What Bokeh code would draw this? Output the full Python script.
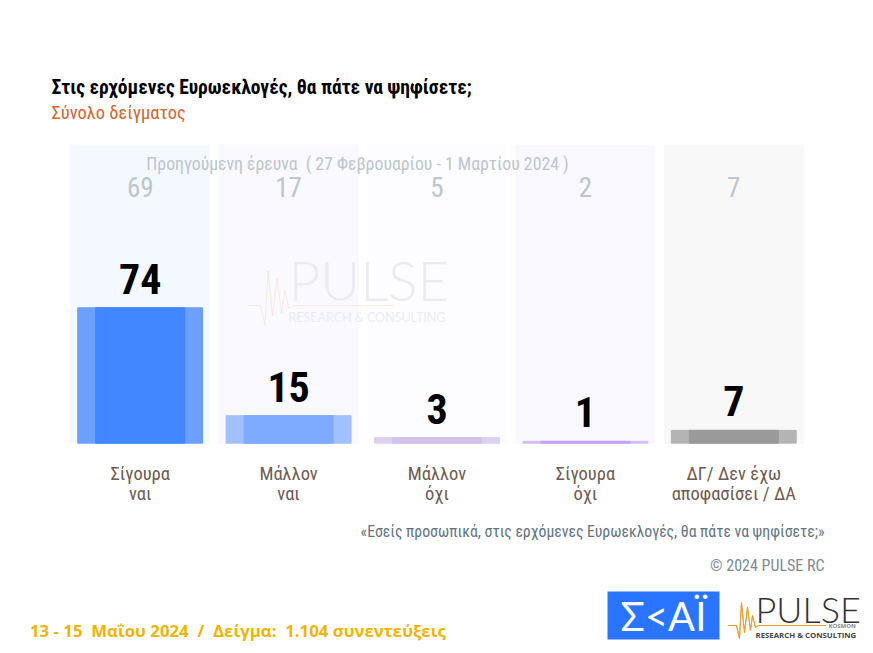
from bokeh.core.properties import value
from bokeh.embed import file_html
from bokeh.models import BoxAnnotation, ColumnDataSource, FactorRange, Label, PolyAnnotation, Range1d
from bokeh.plotting import figure
from bokeh.resources import INLINE

categories = ["Σίγουρα\nναι", "Μάλλον\nναι", "Μάλλον\nόχι", "Σίγουρα\nόχι", "ΔΓ/ Δεν έχω\nαποφασίσει / ΔΑ"]
current = [74, 15, 3, 1, 7]
previous = [69, 17, 5, 2, 7]

outer_colors = ["#6c9fff", "#a0c0ff", "#dcd0f0", "#d4bdf8", "#b4b4b4"]
inner_colors = ["#4287ff", "#7eaaff", "#d3c3ec", "#c3a3f5", "#9a9a9a"]
panel_colors = ["#f3f9ff", "#f9f9ff", "#fdfdff", "#faf8ff", "#f8f8f8"]

NARROW = "Roboto Condensed, Roboto"
PANEL_TOP = 163
PREV_ROW = 140

# frame fills the whole canvas so that the loose texts and the logos are not clipped
x_range = FactorRange(factors=categories, range_padding=0.4415, range_padding_units="absolute")
p = figure(width=873, height=653, x_range=x_range, y_range=Range1d(-115, 242),
           output_backend="svg", toolbar_location=None, min_border=0)
p.outline_line_color = None
p.grid.visible = False
p.yaxis.visible = False
p.xaxis.fixed_location = 0
p.xaxis.axis_line_color = None
p.xaxis.major_tick_line_color = None
p.xaxis.minor_tick_line_color = None
p.xaxis.major_label_standoff = 14
p.xaxis.major_label_text_font = NARROW
p.xaxis.major_label_text_font_size = "18.5px"
p.xaxis.major_label_text_line_height = 0.9
p.xaxis.major_label_text_color = "#6d5a52"

source = ColumnDataSource(data=dict(cat=categories, cur=current, prev=[str(v) for v in previous],
                                    txt=[str(v) for v in current], outer=outer_colors,
                                    inner=inner_colors, panel=panel_colors,
                                    top=[PANEL_TOP] * 5, row=[PREV_ROW] * 5))

p.vbar(x="cat", top="top", width=0.937, color="panel", source=source)
p.vbar(x="cat", top="cur", width=0.842, color="outer", source=source)
p.vbar(x="cat", top="cur", width=0.6, color="inner", source=source)
p.text(x="cat", y="row", text="prev", source=source, text_align="center", text_baseline="middle",
       text_font=value(NARROW), text_font_size="27px", text_color="#bcc6cc")
p.text(x="cat", y="cur", text="txt", source=source, text_align="center", text_baseline="middle",
       y_offset=-29, text_font=value(NARROW), text_font_style="bold", text_font_size="42px", text_color="#000000")


def add_text(text, x, y, size, color, font=NARROW, style="normal", align="left"):
    p.add_layout(Label(x=x, y=y, x_units="canvas", y_units="canvas", text=text, text_font=font,
                       text_font_size=size, text_font_style=style, text_color=color, text_align=align,
                       text_baseline="middle"))


add_text("Στις ερχόμενες Ευρωεκλογές, θα πάτε να ψηφίσετε;", 51, 87, "19.5px", "#000000", style="bold")
add_text("Σύνολο δείγματος", 51, 112, "18.5px", "#d9622b")
add_text("Προηγούμενη έρευνα\u00a0 ( 27 Φεβρουαρίου - 1 Μαρτίου 2024 )", 357, 163, "17.8px", "#bcc6cc", align="center")
add_text("«Εσείς προσωπικά, στις ερχόμενες Ευρωεκλογές, θα πάτε να ψηφίσετε;»", 824, 531, "15.8px", "#5f7482", align="right")
add_text("© 2024 PULSE RC", 824, 565, "16px", "#7a8a94", align="right")
add_text("13 - 15\u00a0 Μαΐου 2024\u00a0 /\u00a0 Δείγμα:\u00a0 1.104 συνεντεύξεις", 29.5, 629.5, "16.8px", "#f2b400", font="Open Sans", style="bold")

# faint watermark
add_text("PULSE", 288, 279, "55px", "#ebecee", font="Lato Light, Lato")
add_text("RESEARCH & CONSULTING", 288, 317, "12.5px", "#ecedef", font="Lato")

# logos
p.add_layout(BoxAnnotation(left=607, right=719, top=591, bottom=639, left_units="canvas", right_units="canvas",
                           top_units="canvas", bottom_units="canvas", fill_color="#2a75ff", fill_alpha=1,
                           line_color=None))
add_text("Σ<ΑΪ", 663, 615, "40px", "#ffffff", font="Lato", align="center")
add_text("PULSE", 755, 608, "36px", "#333333", font="Lato Light, Lato")
add_text("KOSMON", 828, 625, "6px", "#888888", font="Open Sans", style="bold")
add_text("RESEARCH & CONSULTING", 755, 634, "7.8px", "#444444", font="Open Sans", style="bold")


def add_pulse(x0, y0, scale, color, alpha):
    xs = [0, 8, 11, 13, 16, 19, 22, 24, 27, 30, 97]
    ys = [0, 0, 13, -23, 7, -18, 5, -10, 2, 0, 0]
    xs = [x0 + x * scale for x in xs]
    ys = [y0 + y * scale for y in ys]
    p.add_layout(PolyAnnotation(xs=xs + xs[::-1], ys=ys + ys[::-1], xs_units="canvas", ys_units="canvas",
                                fill_alpha=0, line_color=color, line_alpha=alpha, line_width=1))


add_pulse(728, 625, 1, "#f39a2b", 1)
add_pulse(248, 305, 1.5, "#f39a2b", 0.08)

open("out.html", "w").write(file_html(p, INLINE))
